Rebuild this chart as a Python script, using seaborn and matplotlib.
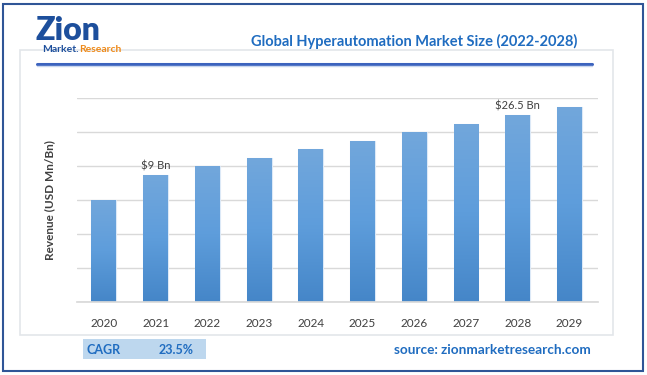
import numpy as np
import pandas as pd
import seaborn as sns
import matplotlib.pyplot as plt
from matplotlib.patches import Rectangle
from matplotlib.lines import Line2D
from matplotlib.colors import LinearSegmentedColormap

# data (units = gridline steps)
years = ['2020', '2021', '2022', '2023', '2024', '2025', '2026', '2027', '2028', '2029']
revenue = [3.0, 3.75, 4.0, 4.25, 4.5, 4.75, 5.0, 5.25, 5.5, 5.75]
bar_labels = {'2021': '$9 Bn', '2028': '$26.5 Bn'}

W, H = 647, 375

sns.set_theme(style='white')
plt.rcParams['font.family'] = ['Lato', 'DejaVu Sans']

fig = plt.figure(figsize=(W / 100, H / 100), dpi=100)


def fx(x):
    return x / W


def fy(y):
    return 1 - y / H


# outer border and inner panel
fig.patches.append(Rectangle((fx(3), fy(371)), fx(640), 367 / H, transform=fig.transFigure,
                             fill=False, edgecolor='#2F5597', lw=1.5))
fig.patches.append(Rectangle((fx(20), fy(335)), fx(593), 285 / H, transform=fig.transFigure,
                             fill=False, edgecolor='#E3E6EA', lw=1.2))

# blue rule under the title
fig.lines.append(Line2D([fx(37), fx(592)], [fy(64), fy(64)], transform=fig.transFigure,
                        color='#3C63BE', lw=2.2))
fig.lines.append(Line2D([fx(37), fx(592)], [fy(66), fy(66)], transform=fig.transFigure,
                        color='#C9D6EE', lw=1))

# logo
fig.text(fx(35), fy(30), 'Zion', fontsize=23, fontweight='heavy', color='#1D4F9C',
         ha='left', va='center')
t1 = fig.text(fx(42), fy(50), 'Market.', fontsize=7.5, fontweight='bold', color='#1D4F9C',
              ha='left', va='center')
fig.canvas.draw()
bb = t1.get_window_extent()
fig.text(bb.x1 / W, fy(50), 'Research', fontsize=7.5, fontweight='bold', color='#EE8A1A',
         ha='left', va='center')

# title
fig.text(fx(414), fy(41), 'Global Hyperautomation Market Size (2022-2028)', fontsize=10.5,
         fontweight='bold', color='#1F6CC0', ha='center', va='center')

# main axes
ax = fig.add_axes([fx(77), fy(302.3), fx(598 - 77), (302.3 - 98.3) / H])
df = pd.DataFrame({'year': years, 'revenue': revenue})
sns.barplot(data=df, x='year', y='revenue', color='#5B9BD5', width=0.48,
            edgecolor='#DCE9F7', linewidth=0.8, ax=ax, zorder=2)

# vertical gradient on each bar
grad = np.linspace(0, 1, 256).reshape(-1, 1)
cmap = LinearSegmentedColormap.from_list('bar', ['#4586C8', '#5E9DDB', '#72A7DC'])
for p in ax.patches:
    x0, y0 = p.get_x(), p.get_y()
    w, h = p.get_width(), p.get_height()
    im = ax.imshow(grad, cmap=cmap, aspect='auto', origin='lower',
                   extent=[x0, x0 + w, y0, y0 + h], zorder=2.5)
    im.set_clip_path(p)

ax.set_xlim(-0.52, 9.55)
ax.set_ylim(0, 6)
ax.set_yticks(np.arange(0, 7, 1))
ax.yaxis.grid(True, color='#D9D9D9', lw=1)
ax.set_axisbelow(True)
ax.tick_params(axis='y', left=False, labelleft=False)
ax.tick_params(axis='x', bottom=False, labelsize=8.5, labelcolor='#404040', pad=5)
for s in ['top', 'right', 'left']:
    ax.spines[s].set_visible(False)
ax.spines['bottom'].set_color('#D9D9D9')
ax.set_xlabel('')
ax.set_ylabel('')

for i, yr in enumerate(years):
    if yr in bar_labels:
        ax.text(i, revenue[i] + 0.1, bar_labels[yr], ha='center', va='bottom',
                fontsize=8, color='#404040')

fig.text(fx(50), fy(200), 'Revenue (USD Mn/Bn)', rotation=90, fontsize=8.5,
         fontweight='bold', color='#404040', ha='center', va='center')

# CAGR box and source
fig.patches.append(Rectangle((fx(83), fy(359)), fx(123), 20 / H, transform=fig.transFigure,
                             facecolor='#BDD7EE', edgecolor='none'))
fig.text(fx(86), fy(349.5), 'CAGR', fontsize=9, fontweight='bold', color='#1F6CC0',
         ha='left', va='center')
fig.text(fx(159), fy(349.5), '23.5%', fontsize=9, fontweight='bold', color='#1F6CC0',
         ha='left', va='center')
fig.text(fx(591), fy(349.5), 'source: zionmarketresearch.com', fontsize=9.8,
         fontweight='bold', color='#1F6CC0', ha='right', va='center')

fig.savefig('out.png', dpi=100)
